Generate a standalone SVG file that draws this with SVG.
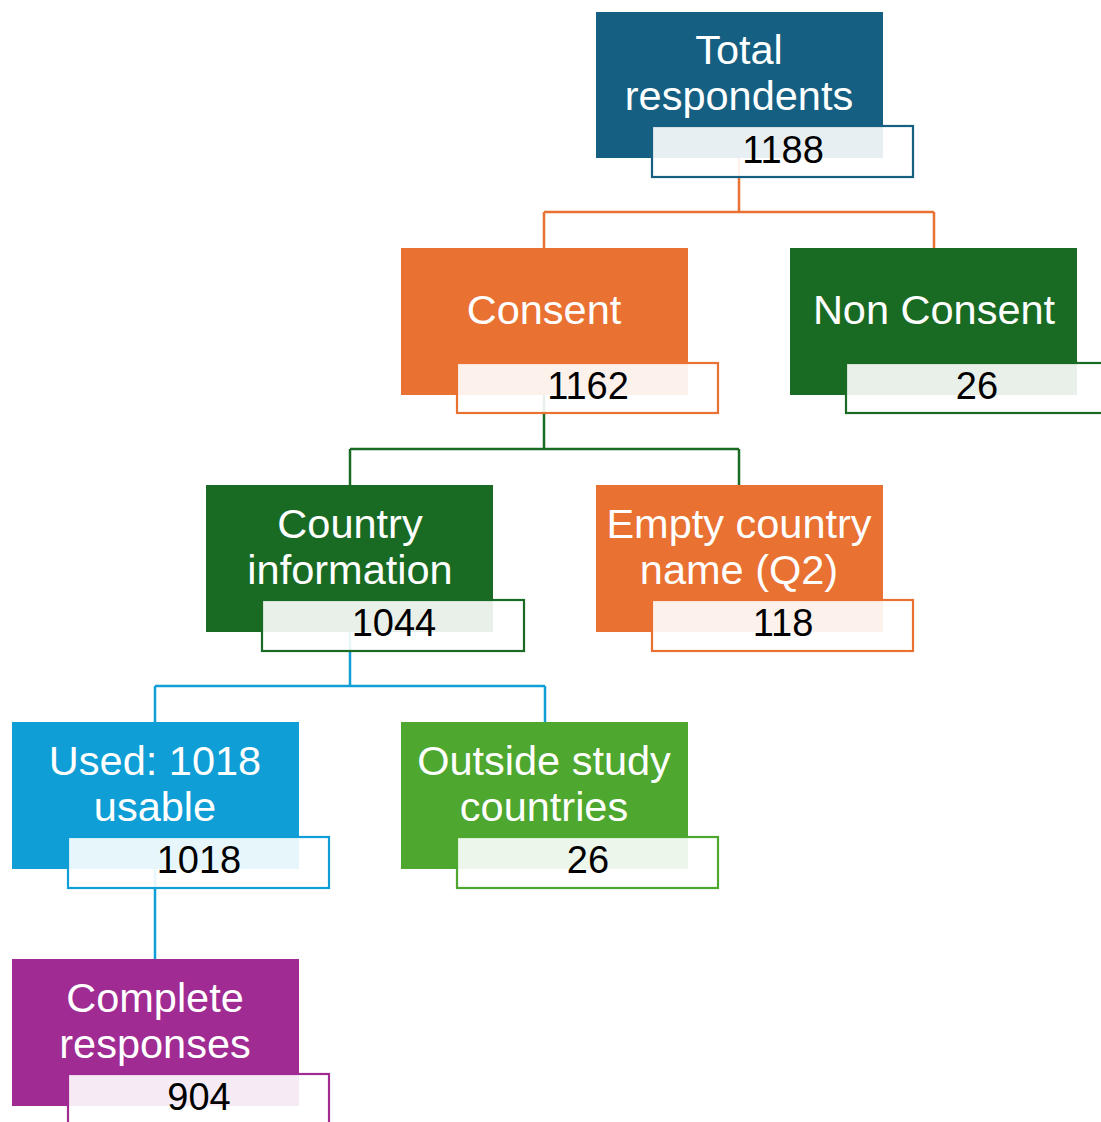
<svg xmlns="http://www.w3.org/2000/svg" width="1101" height="1122" viewBox="0 0 1101 1122">
<style>
.lbl{font-family:"Liberation Sans",Arial,sans-serif;font-size:41.5px;fill:#ffffff;text-anchor:middle}
.num{font-family:"Liberation Sans",Arial,sans-serif;font-size:38px;fill:#000000;text-anchor:middle}
.sub{fill:#ffffff;fill-opacity:0.9;stroke-width:2.2}
.conn{fill:none;stroke-width:2.5}
</style>
<rect width="1101" height="1122" fill="#ffffff"/>
<g id="connectors">
<path class="conn" stroke="#e97132" d="M739,158 V212 M544,212 H934 M544,212 V248 M934,212 V248"/>
<path class="conn" stroke="#196b24" d="M544,395 V449 M350,449 H739 M350,449 V485 M739,449 V485"/>
<path class="conn" stroke="#0f9ed5" d="M350,632 V686 M155,686 H545 M155,686 V722 M545,686 V722"/>
<path class="conn" stroke="#0f9ed5" d="M155,869 V959"/>
</g>
<g id="total">
<rect x="596" y="12" width="287" height="146" fill="#156082"/>
<text class="lbl" x="739" y="64">Total</text>
<text class="lbl" x="739" y="110">respondents</text>
<rect class="sub" x="652" y="126" width="261" height="51" stroke="#156082"/>
<text class="num" x="783" y="163">1188</text>
</g>
<g id="consent">
<rect x="401" y="248" width="287" height="147" fill="#e97132"/>
<text class="lbl" x="544" y="324">Consent</text>
<rect class="sub" x="457" y="363" width="261" height="50" stroke="#e97132"/>
<text class="num" x="588" y="399">1162</text>
</g>
<g id="nonconsent">
<rect x="790" y="248" width="287" height="147" fill="#196b24"/>
<text class="lbl" x="934" y="324">Non Consent</text>
<rect class="sub" x="846" y="363" width="261" height="50" stroke="#196b24"/>
<text class="num" x="977" y="399">26</text>
</g>
<g id="country">
<rect x="206" y="485" width="287" height="147" fill="#196b24"/>
<text class="lbl" x="350" y="538">Country</text>
<text class="lbl" x="350" y="584">information</text>
<rect class="sub" x="262" y="600" width="262" height="51" stroke="#196b24"/>
<text class="num" x="394" y="636">1044</text>
</g>
<g id="empty">
<rect x="596" y="485" width="287" height="147" fill="#e97132"/>
<text class="lbl" x="739" y="538">Empty country</text>
<text class="lbl" x="739" y="584">name (Q2)</text>
<rect class="sub" x="652" y="600" width="261" height="51" stroke="#e97132"/>
<text class="num" x="783" y="636">118</text>
</g>
<g id="used">
<rect x="12" y="722" width="287" height="147" fill="#0f9ed5"/>
<text class="lbl" x="155" y="775">Used: 1018</text>
<text class="lbl" x="155" y="821">usable</text>
<rect class="sub" x="68" y="837" width="261" height="51" stroke="#0f9ed5"/>
<text class="num" x="199" y="873">1018</text>
</g>
<g id="outside">
<rect x="401" y="722" width="287" height="147" fill="#4ea72e"/>
<text class="lbl" x="544" y="775">Outside study</text>
<text class="lbl" x="544" y="821">countries</text>
<rect class="sub" x="457" y="837" width="261" height="51" stroke="#4ea72e"/>
<text class="num" x="588" y="873">26</text>
</g>
<g id="complete">
<rect x="12" y="959" width="287" height="147" fill="#a02b93"/>
<text class="lbl" x="155" y="1012">Complete</text>
<text class="lbl" x="155" y="1058">responses</text>
<rect class="sub" x="68" y="1074" width="261" height="51" stroke="#a02b93"/>
<text class="num" x="199" y="1110">904</text>
</g>
</svg>
